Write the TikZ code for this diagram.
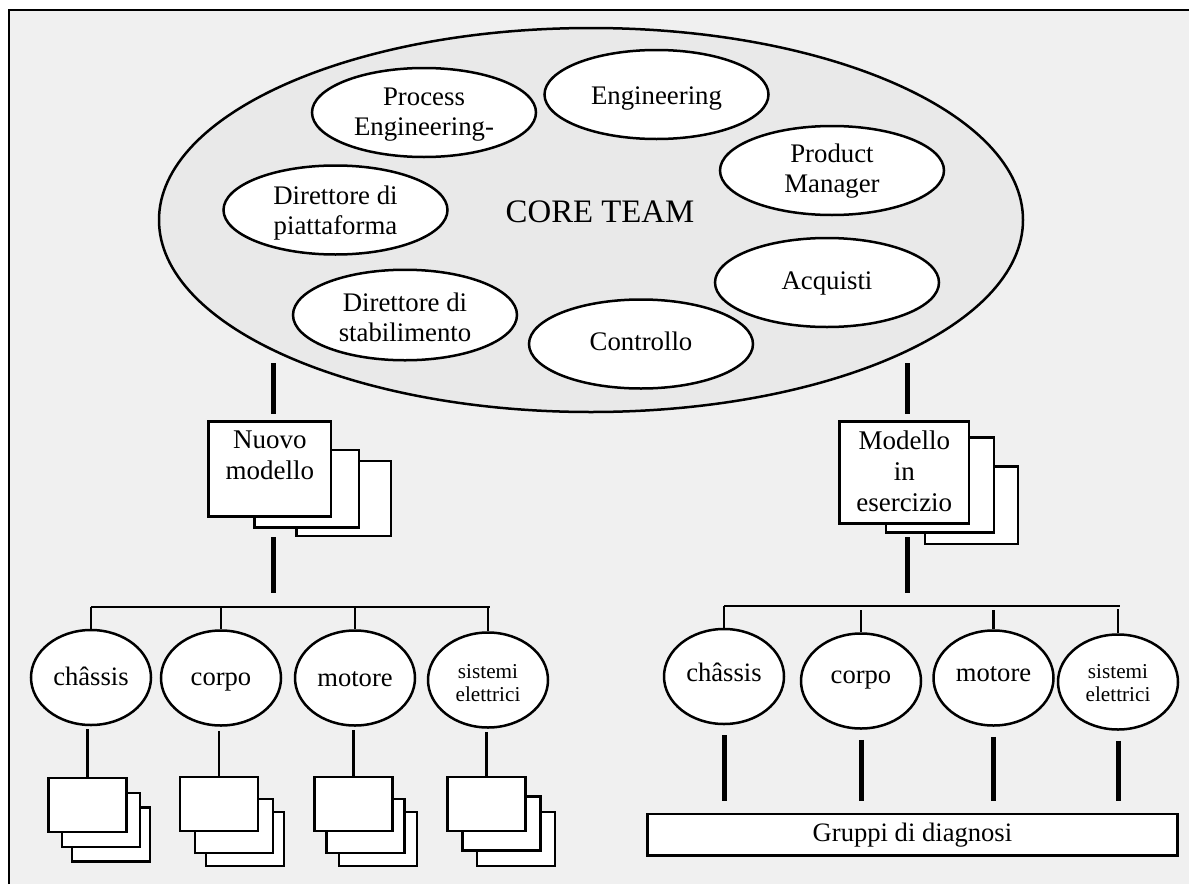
\documentclass[tikz,border=0pt]{standalone}
\usepackage{fontspec}
\setmainfont{Liberation Serif}
\usetikzlibrary{shapes.geometric}
\definecolor{bg}{RGB}{240,240,240}
\definecolor{corefill}{RGB}{233,233,233}
\newcommand\mytop[1]{\rule{0pt}{#1}}
\newcommand\mybot[1]{\rule[-#1]{0pt}{#1}}
\tikzset{
  ln/.style={line width=1.25pt},
  thk/.style={line width=2.5pt},
  member/.style={ellipse, draw, ln, fill=white, inner sep=0pt,
    minimum width=112pt, minimum height=44.5pt, align=center,
    font=\fontsize{13.4}{15}\selectfont},
  member1/.style={member, text height=#1, text depth=3pt},
  member1/.default=9.5pt,
  part/.style={ellipse, draw, ln, fill=white, inner sep=0pt,
    minimum width=60pt, minimum height=47.5pt, align=center,
    font=\fontsize{13.3}{15}\selectfont},
  part1/.style={part, text height=#1, text depth=2.5pt},
  part1/.default=10pt,
  part2/.style={part, font=\fontsize{10.6}{11.9}\selectfont},
  sheet/.style={rectangle, draw, ln, fill=white, inner sep=0pt},
  smallsheet/.style={sheet, minimum width=39pt, minimum height=27pt},
  lbl/.style={inner sep=0pt, align=center, font=\fontsize{13.5}{15.5}\selectfont},
}
\begin{document}
\begin{tikzpicture}[x=0.5pt,y=-0.5pt]
\useasboundingbox (0,0) rectangle (1189,884);
\fill[white] (0,0) rectangle (1189,884);
\fill[bg] (8,10) rectangle (1189,884);
\draw[ln] (9,884) -- (9,10) -- (1189,10);

% core team
\node[ellipse, draw, ln, fill=corefill, inner sep=0pt,
  minimum width=432pt, minimum height=192pt] (core) at (591,220) {};
\node[inner sep=0pt, anchor=base, font=\fontsize{16.4}{18}\selectfont] (coretxt) at (600,222) {CORE TEAM};
\node[member] (proc) at (424,112.5) {\mytop{10.8pt}Process\\Engineering-\mybot{3pt}};
\node[member1=12.5pt] (eng) at (656.5,94.5) {Engineering};
\node[member] (pm) at (832,170.5) {\mytop{10pt}Product\\Manager\mybot{3pt}};
\node[member] (piat) at (335.5,210) {\mytop{12.5pt}Direttore di\\piattaforma\mybot{3pt}};
\node[member1] (acq) at (827,282.5) {Acquisti};
\node[member] (stab) at (405,315) {\mytop{14pt}Direttore di\\stabilimento\mybot{3pt}};
\node[member1] (ctrl) at (641,344) {Controllo};

% left: nuovo modello stack
\node[sheet, minimum width=47.2pt, minimum height=37.5pt] (n3) at (343.8,498.5) {};
\node[sheet, minimum width=52.25pt, minimum height=38.85pt] (n2) at (306.75,488.85) {};
\node[sheet, minimum width=61.2pt, minimum height=47.5pt] (n1) at (269.8,469.2) {};
\node[lbl, anchor=north] (n1txt) at (269.8,430) {Nuovo\\modello};

% right: modello in esercizio stack
\node[sheet, minimum width=46.5pt, minimum height=38.65pt] (m3) at (971.5,505.35) {};
\node[sheet, minimum width=54pt, minimum height=47.5pt] (m2) at (940,485.2) {};
\node[sheet, minimum width=64.75pt, minimum height=50.8pt] (m1) at (904.25,472.5) {};
\node[lbl, anchor=north] (m1txt) at (904.25,430) {Modello\\in\\esercizio};

% thick links from core
\coordinate (la) at (273.6,363);
\coordinate (lb) at (273.6,537);
\coordinate (lc) at (273.6,593);
\draw[thk, shorten >=3.3pt] (la) -- (la |- n1.north);
\draw[thk] (lb) -- (lc);
\coordinate (ra) at (907.6,363);
\coordinate (rb) at (907.6,537);
\coordinate (rc) at (907.6,593);
\draw[thk, shorten >=3.3pt] (ra) -- (ra |- m1.north);
\draw[thk] (rb) -- (rc);

% left components
\node[part1] (lc1) at (91,677.5) {châssis};
\node[part1] (lc2) at (221,678) {corpo};
\node[part1=11pt] (lc3) at (355,678) {motore};
\node[part2] (lc4) at (488,680) {\mytop{12.5pt}sistemi\\elettrici\mybot{2.5pt}};
\coordinate (lbusL) at (91,607);
\coordinate (lbusR) at (490,607);
\draw[ln] (lbusL) -- (lbusR);
\foreach \e in {lc1,lc2,lc3,lc4} \draw[ln] (\e.north |- lbusL) -- (\e.north);

% left sub-sheets
\node[smallsheet] (a3) at (111,834.5) {};
\node[smallsheet] (a2) at (101,820) {};
\node[smallsheet] (a1) at (87.5,805) {};
\node[smallsheet] (b3) at (244.75,839) {};
\node[smallsheet] (b2) at (234,826) {};
\node[smallsheet] (b1) at (218.8,804) {};
\node[smallsheet] (c3) at (377.85,839) {};
\node[smallsheet] (c2) at (365.25,826) {};
\node[smallsheet] (c1) at (353.5,804) {};
\node[smallsheet] (d3) at (516,839) {};
\node[smallsheet] (d2) at (501.5,823.5) {};
\node[smallsheet] (d1) at (486.65,804) {};
\draw[ln, shorten >=1.5pt] (a1.north) -- (a1.north |- lc1.south);
\draw[ln, shorten >=2pt] (b1.north) -- (b1.north |- lc2.south);
\draw[ln, shorten >=1.5pt] (c1.north) -- (c1.north |- lc3.south);
\draw[ln, shorten >=1.5pt] (d1.north) -- (d1.north |- lc4.south);

% right components
\node[part1=7.7pt] (rc1) at (724,676.5) {châssis};
\node[part1=4.5pt] (rc2) at (861,681) {corpo};
\node[part1=6.2pt] (rc3) at (993.5,678) {motore};
\node[part2] (rc4) at (1118,682) {\mytop{10.5pt}sistemi\\elettrici\mybot{2.5pt}};
\coordinate (rbusL) at (724,606);
\coordinate (rbusR) at (1120,606);
\draw[ln] (rbusL) -- (rbusR);
\draw[ln] (rc1.north |- rbusL) -- (rc1.north);
\draw[ln, shorten <=2pt] (rc2.north |- rbusL) -- (rc2.north);
\draw[ln, shorten <=2pt] (rc3.north |- rbusL) -- (rc3.north);
\draw[ln, shorten <=1.5pt] (rc4.north |- rbusL) -- (rc4.north);

% diagnosis groups
\node[sheet, minimum width=265pt, minimum height=20.75pt,
  font=\fontsize{13.3}{15}\selectfont] (grp) at (912.45,834.75) {Gruppi di diagnosi};
\foreach \e in {rc1,rc2,rc3,rc4}
  \draw[thk, shorten <=5pt, shorten >=6pt] (\e.south) -- (\e.south |- grp.north);
\end{tikzpicture}
\end{document}
